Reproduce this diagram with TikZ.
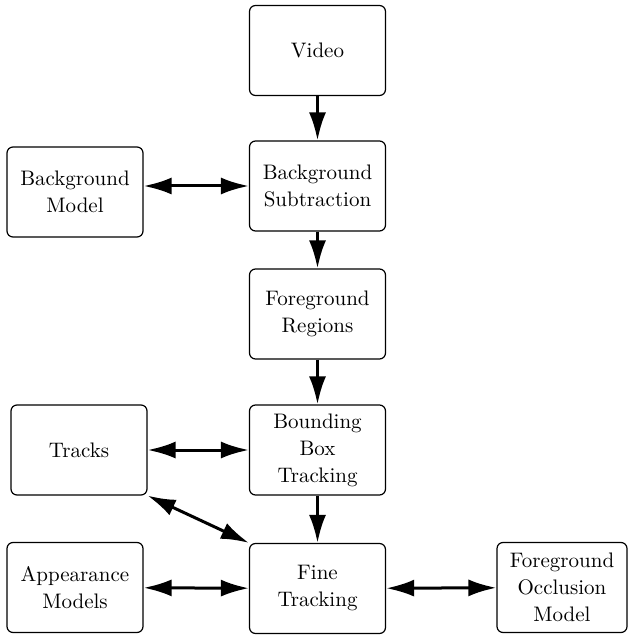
\documentclass[tikz,border=0pt]{standalone}
\usetikzlibrary{arrows.meta}

\begin{document}
\begin{tikzpicture}[x=0.5pt, y=-0.5pt,
    box/.style={draw, line width=0.6pt, rounded corners=3pt, align=center,
        minimum width=68pt, minimum height=45pt, inner sep=0pt,
        font=\fontsize{10.5}{13.5}\selectfont},
    flow/.style={line width=1.5pt, -{Latex[length=14pt, width=8.5pt]}},
    both/.style={line width=1.5pt, {Latex[length=14pt, width=8.5pt]}-{Latex[length=14pt, width=8.5pt]}}]

    % Fix the size of the picture
    \useasboundingbox (0,0) rectangle (628,635);

    % Main column of processing steps
    \node[box] (video) at (317.5,50.5) {Video};
    \node[box] (bgsub) at (317.5,186) {Background\\Subtraction};
    \node[box] (fgreg) at (317.5,314) {Foreground\\Regions};
    \node[box] (bbox) at (317.5,450) {Bounding\\Box\\Tracking};
    \node[box] (fine) at (317.5,588.5) {Fine\\Tracking};

    % Models and data on the sides
    \node[box] (bgmodel) at (75,192) {Background\\Model};
    \node[box] (tracks) at (79,450) {Tracks};
    \node[box] (appear) at (75,587.5) {Appearance\\Models};
    \node[box, minimum width=65pt] (occl) at (562,587.5) {Foreground\\Occlusion\\Model};

    % Arrows down the main column
    \draw[flow] (video) -- (bgsub);
    \draw[flow] (bgsub) -- (fgreg);
    \draw[flow] (fgreg) -- (bbox);
    \draw[flow] (bbox) -- (fine);

    % Two-way arrows to the side boxes
    \draw[both] (bgmodel.east |- bgsub) -- (bgsub.west);
    \draw[both] (tracks) -- (bbox);
    \draw[both] (tracks.south east) -- (fine.north west);
    \draw[both] (appear) -- (fine);
    \draw[both] (fine) -- (occl);

\end{tikzpicture}
\end{document}
